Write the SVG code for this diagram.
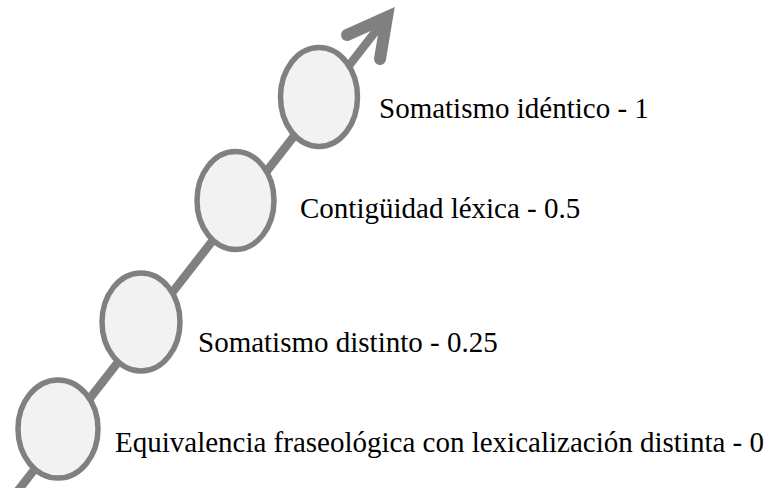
<svg xmlns="http://www.w3.org/2000/svg" width="772" height="488" viewBox="0 0 772 488">
<style>
.node ellipse{fill:#f2f2f2;stroke:#808080;stroke-width:5.5}
.node text{font-family:"Liberation Serif","Times New Roman",serif;font-size:29px;fill:#000}
.arrow{fill:none;stroke:#808080}
</style>
<rect width="772" height="488" fill="#fff"/>
<g id="connectors">
<line class="arrow" x1="13" y1="497" x2="386" y2="18" stroke-width="8.5"/>
<polyline class="arrow" points="347,35 387,17 380,59" stroke-width="12" stroke-linecap="round" stroke-linejoin="miter"/>
</g>
<g id="n4" class="node">
<ellipse cx="58" cy="429" rx="40" ry="49"/>
<text x="115" y="452">Equivalencia fraseológica con lexicalización distinta - 0</text>
</g>
<g id="n3" class="node">
<ellipse cx="141" cy="322" rx="39" ry="49"/>
<text x="198" y="352">Somatismo distinto - 0.25</text>
</g>
<g id="n2" class="node">
<ellipse cx="235.5" cy="200.5" rx="38.5" ry="49"/>
<text x="300" y="218">Contigüidad léxica - 0.5</text>
</g>
<g id="n1" class="node">
<ellipse cx="319" cy="97" rx="38.5" ry="49.5"/>
<text x="379" y="118">Somatismo idéntico - 1</text>
</g>
</svg>
